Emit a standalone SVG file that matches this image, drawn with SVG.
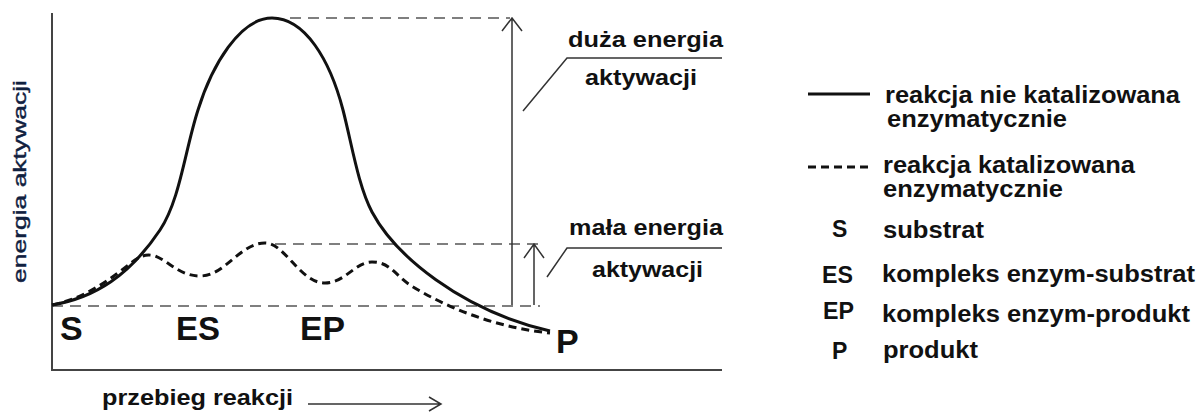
<svg xmlns="http://www.w3.org/2000/svg" width="1199" height="414" viewBox="0 0 1199 414">
<style>
.t{font-family:"Liberation Sans",Arial,sans-serif;font-weight:bold;fill:#111}
.big{font-size:34px}
.lab{font-size:22px}
.leg{font-size:23px}
.axis{stroke:#444;stroke-width:2;fill:none}
.guide{stroke:#555;stroke-width:1.5;fill:none;stroke-dasharray:11 7}
.thin{stroke:#333;stroke-width:1.5;fill:none}
.solid{stroke:#111;stroke-width:3;fill:none}
.dash{stroke:#111;stroke-width:3;fill:none;stroke-dasharray:8 5}
</style>
<rect width="1199" height="414" fill="#fff"/>
<g id="axes">
<path class="axis" d="M52,13 V370 H722"/>
</g>
<g id="connectors">
<path class="guide" d="M290,18 H510"/>
<path class="guide" d="M275,244 H543"/>
<path class="guide" d="M52,306 H540"/>
<path class="thin" d="M512,305 V18 M502,31 L512,18 L522,31"/>
<path class="thin" d="M534,305 V244 M524,258 L534,244 L544,258"/>
<path class="thin" d="M523,111 L567,58 H722"/>
<path class="thin" d="M547,277 L567,248 H722"/>
<path class="thin" d="M308,404 H441 M429,397 L441,404 L429,411"/>
</g>
<g id="curves">
<path class="solid" d="M52,305 C95,298 130,275 160,230 C180,200 185,150 198,110 C212,65 240,18 272,18 C305,18 330,60 343,110 C352,145 358,185 372,212 C395,255 460,310 550,331"/>
<path class="dash" d="M52,305 C90,297 115,275 135,260 C142,255 148,254 155,256 C170,262 180,276 200,276 C225,276 240,243 265,243 C285,243 300,283 325,283 C345,283 355,262 372,262 C390,262 395,275 410,285 C450,310 500,328 550,333"/>
</g>
<g id="node-S"><text class="t big" x="60" y="340">S</text></g>
<g id="node-ES"><text class="t big" x="176" y="340" textLength="44" lengthAdjust="spacingAndGlyphs">ES</text></g>
<g id="node-EP"><text class="t big" x="300" y="340" textLength="45" lengthAdjust="spacingAndGlyphs">EP</text></g>
<g id="node-P"><text class="t big" x="556" y="353">P</text></g>
<g id="y-label"><text class="t" style="font-size:19px;font-weight:normal;fill:#10203f;stroke:#10203f;stroke-width:0.4" transform="translate(26,283) rotate(-90)" textLength="203" lengthAdjust="spacingAndGlyphs">energia aktywacji</text></g>
<g id="x-label"><text class="t lab" x="102" y="405" textLength="191" lengthAdjust="spacingAndGlyphs">przebieg reakcji</text></g>
<g id="label-duza">
<text class="t lab" x="568" y="47" textLength="155" lengthAdjust="spacingAndGlyphs">duża energia</text>
<text class="t lab" x="585" y="85" textLength="112" lengthAdjust="spacingAndGlyphs">aktywacji</text>
</g>
<g id="label-mala">
<text class="t lab" x="569" y="235" textLength="154" lengthAdjust="spacingAndGlyphs">mała energia</text>
<text class="t lab" x="592" y="277" textLength="111" lengthAdjust="spacingAndGlyphs">aktywacji</text>
</g>
<g id="legend">
<path stroke="#111" stroke-width="3" d="M808,94 H870"/>
<path stroke="#111" stroke-width="3" stroke-dasharray="8 5" d="M808,167 H870"/>
<text class="t leg" x="885" y="103" textLength="295" lengthAdjust="spacingAndGlyphs">reakcja nie katalizowana</text>
<text class="t leg" x="887" y="127" textLength="180" lengthAdjust="spacingAndGlyphs">enzymatycznie</text>
<text class="t leg" x="883" y="173" textLength="252" lengthAdjust="spacingAndGlyphs">reakcja katalizowana</text>
<text class="t leg" x="883" y="197" textLength="180" lengthAdjust="spacingAndGlyphs">enzymatycznie</text>
<text class="t leg" x="832" y="237">S</text>
<text class="t leg" x="883" y="238" textLength="101" lengthAdjust="spacingAndGlyphs">substrat</text>
<text class="t leg" x="822" y="283" textLength="31" lengthAdjust="spacingAndGlyphs">ES</text>
<text class="t leg" x="882" y="282" textLength="313" lengthAdjust="spacingAndGlyphs">kompleks enzym-substrat</text>
<text class="t leg" x="823" y="319" textLength="31" lengthAdjust="spacingAndGlyphs">EP</text>
<text class="t leg" x="882" y="322" textLength="308" lengthAdjust="spacingAndGlyphs">kompleks enzym-produkt</text>
<text class="t leg" x="832" y="359">P</text>
<text class="t leg" x="883" y="358" textLength="95" lengthAdjust="spacingAndGlyphs">produkt</text>
</g>
</svg>
